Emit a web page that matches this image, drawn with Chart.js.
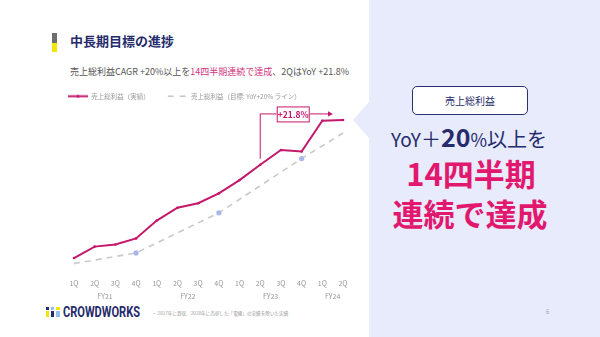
<!DOCTYPE html>
<html><head><meta charset="utf-8">
<script src="https://cdn.jsdelivr.net/npm/chart.js@4.4.1/dist/chart.umd.min.js"></script>
<style>
html,body{margin:0;padding:0;}
body{width:600px;height:337px;position:relative;overflow:hidden;background:#fff;font-family:'Noto Sans CJK JP',sans-serif;}
.abs{position:absolute;white-space:nowrap;}
#panel{left:369px;top:0;width:231px;height:337px;background:#e7ebfc;}
#tri{left:353px;top:102px;width:0;height:0;border-right:16px solid #e7ebfc;border-top:18px solid transparent;border-bottom:18px solid transparent;}
#mark1{left:52px;top:33px;width:5px;height:10px;background:#6e6e6e;}
#mark2{left:52px;top:43px;width:5px;height:9px;background:#f3e600;}
#title{left:70px;top:33px;font-size:13px;line-height:16px;font-weight:700;color:#252b6b;}
#sub{left:70px;top:66px;font-size:9px;line-height:12px;color:#555;}
#sub .pk{color:#d2357e;}
#chartWrap{left:0;top:75px;width:370px;height:225px;}
#kpiBox{left:412px;top:86px;width:114px;height:27px;border:1.5px solid #2b3170;border-radius:5px;background:#fff;display:flex;align-items:center;justify-content:center;font-size:10px;color:#252b6b;}
#yoy{left:370px;top:127px;width:198px;text-align:center;font-size:20px;line-height:24px;color:#252b6b;}
#yoy span{line-height:0;}
#big1{left:370px;top:157px;width:202px;text-align:center;font-size:31px;line-height:31px;font-weight:700;color:#e2186f;}
#big2{left:370px;top:197px;width:200px;text-align:center;font-size:31px;line-height:31px;font-weight:700;color:#e2186f;}
#logoText{left:63px;top:305px;font-family:Roboto,sans-serif;font-weight:700;font-size:14px;line-height:14px;color:#252b6b;transform:scaleX(0.79);transform-origin:left center;}
#foot{left:152px;top:310px;font-size:4.6px;line-height:6px;color:#999;}
#page{left:546px;top:308px;font-size:6px;line-height:8px;color:#aaa;}
.ic{position:absolute;}
</style></head><body>
<div id="panel" class="abs"></div>
<div id="tri" class="abs"></div>
<div id="mark1" class="abs"></div>
<div id="mark2" class="abs"></div>
<div id="title" class="abs">中長期目標の進捗</div>
<div id="sub" class="abs">売上総利益CAGR +20%以上を<span class="pk">14四半期連続で達成</span>、2QはYoY +21.8%</div>
<div id="chartWrap" class="abs"><canvas id="c" width="370" height="225"></canvas></div>
<div id="kpiBox" class="abs">売上総利益</div>
<div id="yoy" class="abs"><span style="font-size:19px">YoY</span><span style="font-size:20px">＋</span><span style="font-size:25px;font-weight:700">20</span><span style="font-size:18px">%</span><span>以上を</span></div>
<div id="big1" class="abs">14四半期</div>
<div id="big2" class="abs">連続で達成</div>
<div class="abs" style="left:46px;top:307px;width:15px;height:11px;">
  <div class="ic" style="left:0;top:0;width:3px;height:3px;background:#252b6b"></div>
  <div class="ic" style="left:0;top:4px;width:3px;height:6px;background:#f3e600"></div>
  <div class="ic" style="left:5px;top:0;width:3px;height:3px;background:#8fc3ea"></div>
  <div class="ic" style="left:5px;top:4px;width:3px;height:6px;background:#252b6b"></div>
  <div class="ic" style="left:10px;top:0;width:4px;height:3px;background:#f3e600"></div>
  <div class="ic" style="left:10px;top:4px;width:4px;height:6px;background:#8fc3ea"></div>
</div>
<div id="logoText" class="abs">CROWDWORKS</div>
<div id="foot" class="abs">・ 2017年に買収、2020年に売却した「電縁」の実績を除いた実績</div>
<div id="page" class="abs">6</div>
<script>
const quarters = ['1Q','2Q','3Q','4Q','1Q','2Q','3Q','4Q','1Q','2Q','3Q','4Q','1Q','2Q'];
const quarterYears = ['FY21','FY21','FY21','FY21','FY22','FY22','FY22','FY22','FY23','FY23','FY23','FY23','FY24','FY24'];
const grossProfitActual = [11.04, 11.6, 11.7, 12.0, 12.87, 13.5, 13.72, 14.2, 14.85, 15.6, 16.32, 16.25, 17.75, 17.79];
const grossProfitTarget = [10.77, null, null, 11.29, null, null, null, 13.25, null, null, null, 15.9, null, 17.15];
const seriesNames = ['売上総利益（実績）', '売上総利益（目標: YoY+20% ライン）'];
const yoyLabel = '+21.8%';
const yoyFrom = 9, yoyTo = 13;

const fiscalYears = [...new Set(quarterYears)];
const fiscalYearCenters = fiscalYears.map(fy => {
  const idx = quarterYears.map((q, i) => q === fy ? i : -1).filter(i => i >= 0);
  return (idx[0] + idx[idx.length - 1]) / 2;
});

const PINK = '#c4186c';
const GREY = '#c9c9cd';
const DOT = '#a9b6e8';

Chart.defaults.font.family = "'Noto Sans CJK JP', sans-serif";

const icon = document.createElement('canvas');
icon.width = 20; icon.height = 7;
(function(){
  const g = icon.getContext('2d');
  g.strokeStyle = PINK; g.lineWidth = 2;
  g.beginPath(); g.moveTo(0, 3.5); g.lineTo(20, 3.5); g.stroke();
  g.fillStyle = PINK; g.beginPath(); g.arc(10, 3.5, 1.6, 0, Math.PI * 2); g.fill();
})();

// fiscal-year group labels, centred under their quarters via the x scale
const fyLabels = {
  id: 'fyLabels',
  afterDraw(chart) {
    const {ctx, chartArea, scales: {x}} = chart;
    ctx.save();
    ctx.fillStyle = '#999';
    ctx.font = "7px 'Noto Sans CJK JP', sans-serif";
    ctx.textAlign = 'center'; ctx.textBaseline = 'middle';
    fiscalYears.forEach((fy, i) => {
      ctx.fillText(fy, x.getPixelForValue(fiscalYearCenters[i]), chartArea.bottom + 23);
    });
    ctx.restore();
  }
};

const yoyBracket = {
  id: 'yoyBracket',
  afterDatasetsDraw(chart) {
    const {ctx, scales: {x, y}} = chart;
    const x0 = x.getPixelForValue(yoyFrom), x1 = x.getPixelForValue(yoyTo);
    const yTop = y.getPixelForValue(grossProfitActual[yoyTo]) - 6;
    const yBot = y.getPixelForValue(grossProfitActual[yoyFrom]) - 6;
    const bx = x0 + 16.5, bw = 33, bh = 16, by = yTop - 7.5;
    const tip = x1 - 10;
    ctx.save();
    ctx.strokeStyle = PINK; ctx.lineWidth = 1;
    ctx.beginPath();
    ctx.moveTo(x0, yBot); ctx.lineTo(x0, yTop); ctx.lineTo(bx, yTop);
    ctx.moveTo(bx + bw, yTop); ctx.lineTo(tip - 4, yTop);
    ctx.stroke();
    ctx.fillStyle = PINK;
    ctx.beginPath(); ctx.moveTo(tip, yTop); ctx.lineTo(tip - 5, yTop - 2.6); ctx.lineTo(tip - 5, yTop + 2.6); ctx.closePath(); ctx.fill();
    ctx.fillStyle = '#fff';
    ctx.fillRect(bx, by, bw, bh);
    ctx.strokeRect(bx + 0.5, by + 0.5, bw - 1, bh - 1);
    ctx.fillStyle = PINK;
    ctx.font = "700 8.5px 'Noto Sans CJK JP', sans-serif";
    ctx.textAlign = 'center'; ctx.textBaseline = 'middle';
    ctx.fillText(yoyLabel, bx + bw / 2, by + bh / 2 + 0.5);
    ctx.restore();
  }
};

new Chart(document.getElementById('c'), {
  type: 'line',
  data: {
    labels: quarters,
    datasets: [
      {
        label: seriesNames[0],
        data: grossProfitActual,
        borderColor: PINK, backgroundColor: PINK,
        borderWidth: 2, pointRadius: 1.3, pointBorderWidth: 0,
        tension: 0, order: 0
      },
      {
        label: seriesNames[1],
        data: grossProfitTarget,
        borderColor: GREY, backgroundColor: DOT,
        borderWidth: 1.6, borderDash: [6, 5], spanGaps: true,
        pointRadius: c => (quarters[c.dataIndex] === '4Q' && grossProfitTarget[c.dataIndex] != null) ? 2.6 : 0,
        pointBackgroundColor: DOT, pointBorderWidth: 0,
        tension: 0, order: 1
      }
    ]
  },
  options: {
    responsive: false, animation: false, events: [], devicePixelRatio: 1,
    layout: { padding: { left: 50, right: 27, top: 0, bottom: 6.6 } },
    plugins: {
      tooltip: { enabled: false },
      legend: {
        position: 'top', align: 'start',
        labels: {
          usePointStyle: true, pointStyleWidth: 20, boxWidth: 20, boxHeight: 6.5,
          padding: 18, color: '#999', font: { size: 6.5 },
          generateLabels(chart) {
            const items = Chart.defaults.plugins.legend.labels.generateLabels(chart);
            items[0].pointStyle = icon;
            items[1].pointStyle = 'line';
            items[1].lineDash = [6, 6];
            items[1].lineWidth = 1.6;
            items[1].strokeStyle = GREY;
            return items;
          }
        }
      }
    },
    scales: {
      x: {
        offset: false,
        grid: { display: false, drawTicks: false }, border: { display: false },
        ticks: { color: '#999', font: { size: 7 }, padding: 6, autoSkip: false, maxRotation: 0 }
      },
      y: {
        min: 10.31, max: 18.3,
        grid: { display: false, drawTicks: false }, border: { display: false },
        ticks: { display: false },
        afterFit: s => { s.width = 24; }
      }
    }
  },
  plugins: [yoyBracket, fyLabels]
});
</script>
</body></html>
